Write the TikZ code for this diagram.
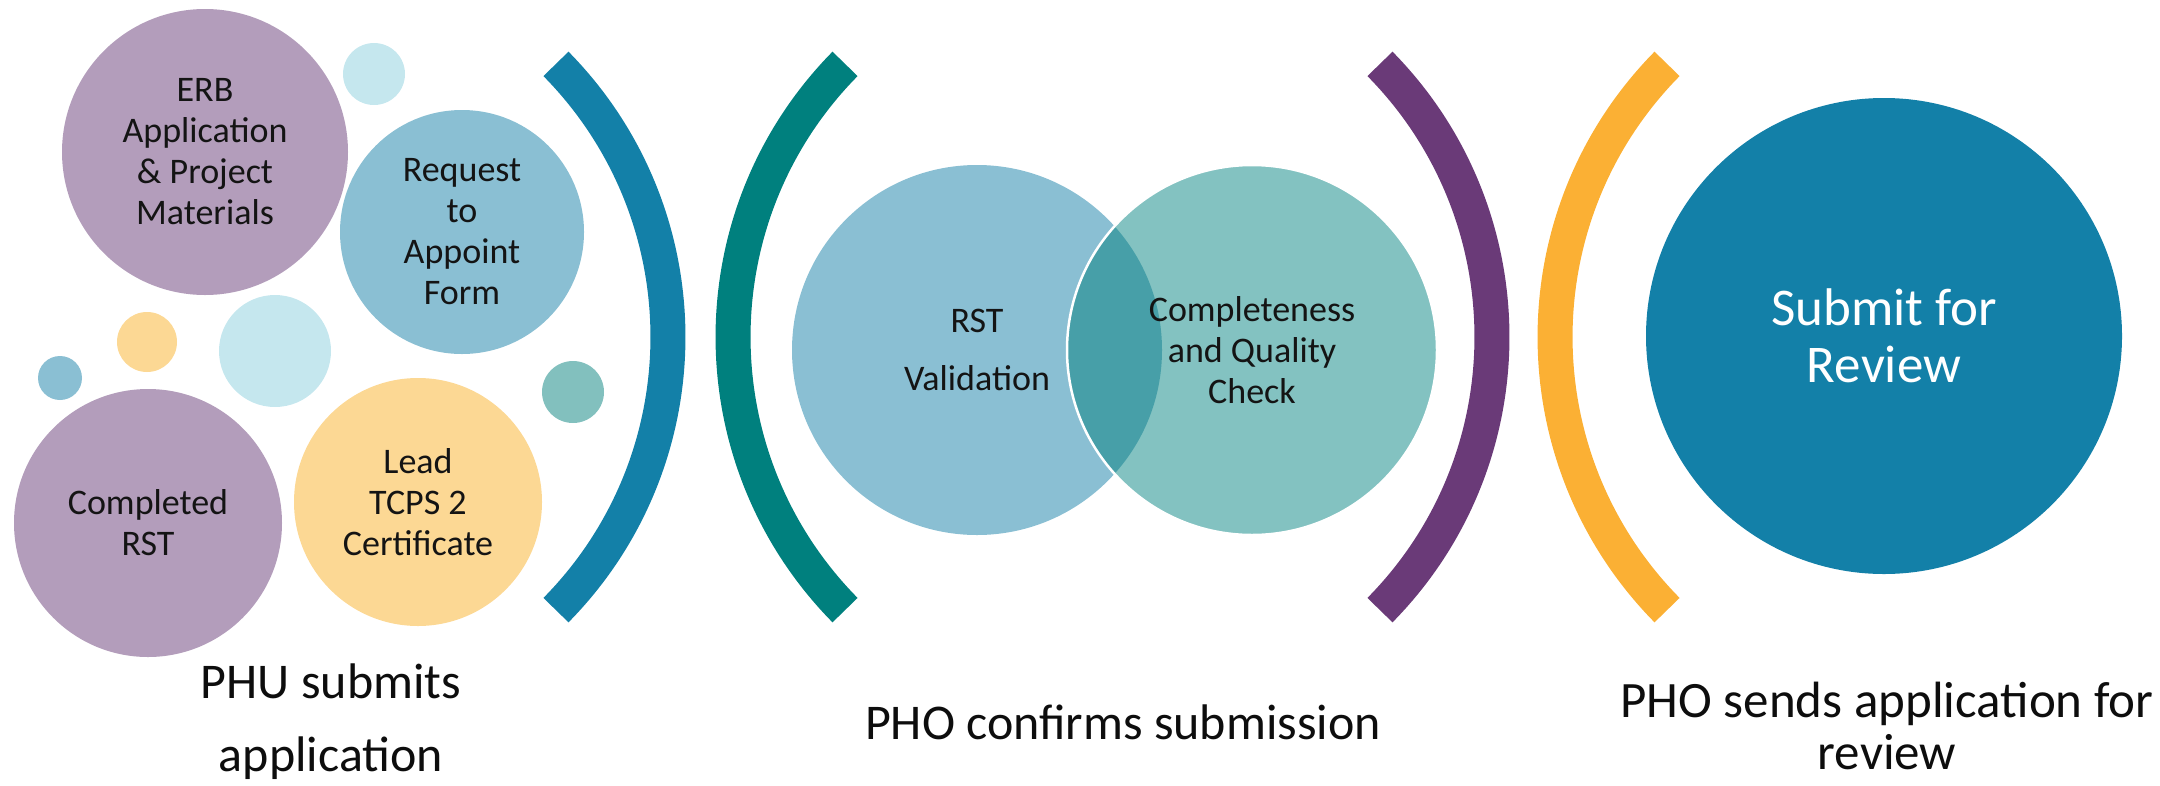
\documentclass[tikz,border=0pt]{standalone}
\usepackage{fontspec}
\setmainfont{Carlito}

\definecolor{erbpurple}{HTML}{B39DBB}
\definecolor{reqblue}{HTML}{8ABFD3}
\definecolor{paleblue}{HTML}{C5E7EE}
\definecolor{paleorange}{HTML}{FCD894}
\definecolor{paleteal}{HTML}{82C0BE}
\definecolor{barblue}{HTML}{1380A8}
\definecolor{barteal}{HTML}{00807E}
\definecolor{barpurple}{HTML}{6A3A78}
\definecolor{barorange}{HTML}{FBB034}
\definecolor{chkteal}{HTML}{83C2C1}
\definecolor{overlapteal}{HTML}{479FA8}

\begin{document}
\begin{tikzpicture}[x=1pt,y=-1pt,
    bubble/.style={circle, inner sep=0pt, align=center, text=black!92,
      font=\fontsize{36}{41}\selectfont},
    dot/.style={circle, inner sep=0pt},
    bar/.style={line width=35pt},
    caption/.style={align=center, text=black!95}]

    \useasboundingbox (0,0) rectangle (2160,785);

    % small bubbles
    \foreach \pos/\d/\col [count=\i] in {{(374,74)}/62/paleblue, {(147,342)}/60/paleorange,
        {(275,351)}/112/paleblue, {(60,378)}/44/reqblue, {(573,392)}/62/paleteal}
    \node[dot, fill=\col, minimum size=\d pt] (dot\i) at \pos {};

    % PHU submits
    \node[bubble, fill=erbpurple, minimum size=286pt] (erb) at (205,152)
        {ERB\\Application\\\& Project\\Materials};
    \node[bubble, fill=reqblue, minimum size=244pt] (req) at (462,232)
        {Request\\to\\Appoint\\Form};
    \node[bubble, fill=erbpurple, minimum size=268pt] (rst) at (148,523)
        {Completed\\RST};
    \node[bubble, fill=paleorange, minimum size=248pt] (lead) at (418,502)
        {Lead\\TCPS 2\\Certificate};

    % PHO confirms
    \node[bubble, fill=reqblue, minimum size=370pt] (val) at (977,350) {};
    \node[bubble, fill=chkteal, minimum size=370pt] (chk) at (1252,350) {};
    \begin{scope}
        \clip (val) circle[radius=185pt];
        \fill[overlapteal] (chk) circle[radius=185pt];
    \end{scope}
    \draw[white, line width=2.5pt] (chk) circle[radius=185pt];
    \node[bubble] (valtxt) at (val.center) {RST\\[17pt]Validation};
    \node[bubble] (chktxt) at (chk.center) {Completeness\\and Quality\\Check};

    % PHO sends
    \node[bubble, fill=barblue, minimum size=476pt, text=white,
        font=\fontsize{53}{57}\selectfont] (submit) at (1884,336) {Submit for\\Review};

    % brackets
    \coordinate (cblue) at (279,337);
    \coordinate (cteal) at (1122,337);
    \coordinate (cpurple) at (1103,337);
    \coordinate (corange) at (1944,337);
    \draw[bar, barblue] ([shift={(-44.6:389pt)}]cblue) arc[start angle=-44.6, end angle=44.6, radius=389pt];
    \draw[bar, barteal] ([shift={(135.4:389pt)}]cteal) arc[start angle=135.4, end angle=224.6, radius=389pt];
    \draw[bar, barpurple] ([shift={(-44.6:389pt)}]cpurple) arc[start angle=-44.6, end angle=44.6, radius=389pt];
    \draw[bar, barorange] ([shift={(135.4:389pt)}]corange) arc[start angle=135.4, end angle=224.6, radius=389pt];

    % captions
    \node[caption, font=\fontsize{50}{73}\selectfont] (phu) at (331,722) {PHU submits\\application};
    \node[caption, font=\fontsize{50}{58}\selectfont] (conf) at (1123,722) {PHO confirms submission};
    \node[caption, font=\fontsize{51}{52}\selectfont] (send) at (1887,726) {PHO sends application for\\review};

\end{tikzpicture}
\end{document}
